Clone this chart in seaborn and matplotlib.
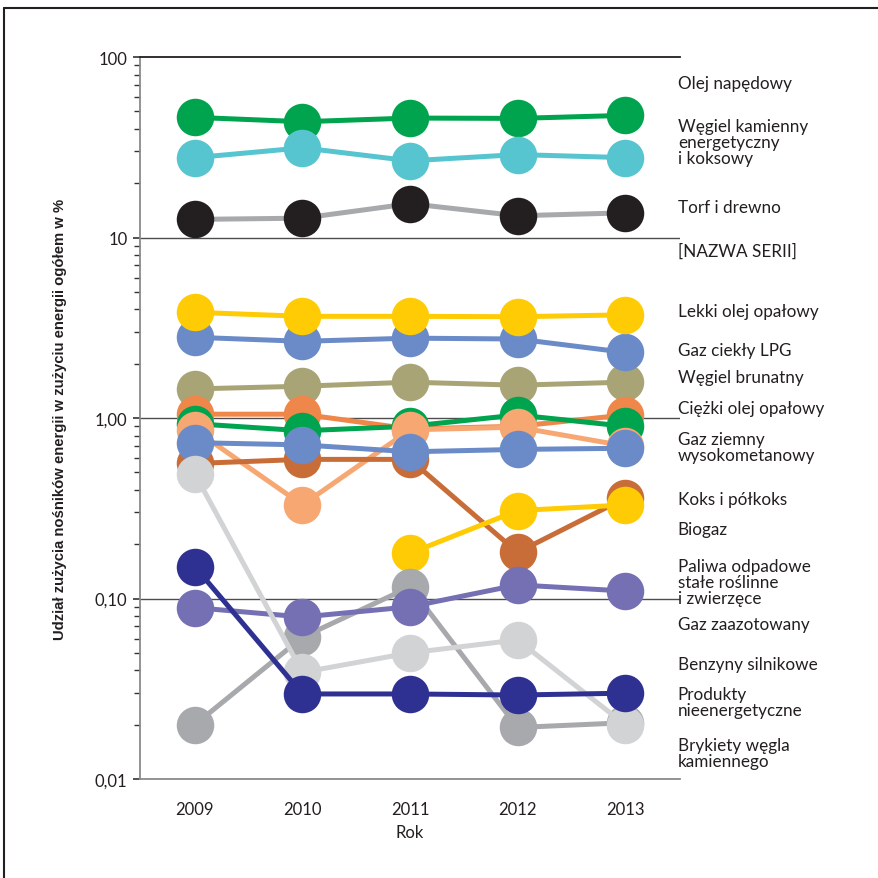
import numpy as np
import pandas as pd
import seaborn as sns
import matplotlib
matplotlib.use("Agg")
import matplotlib.pyplot as plt
from matplotlib.ticker import FixedLocator, FixedFormatter, LogLocator, NullFormatter

# =========================
# DATA
# =========================
years = [2009, 2010, 2011, 2012, 2013]

diesel       = [46.3, 43.8, 45.9, 45.7, 47.5]
coal_hard    = [27.7, 31.4, 26.6, 28.8, 27.7]
peat_wood    = [12.6, 12.8, 15.4, 13.2, 13.7]
light_oil    = [3.85, 3.66, 3.66, 3.64, 3.73]
lpg          = [2.80, 2.66, 2.77, 2.74, 2.31]
lignite      = [1.45, 1.50, 1.58, 1.52, 1.58]
heavy_oil    = [1.05, 1.05, 0.87, 0.90, 1.04]
green2       = [0.93, 0.85, 0.90, 1.04, 0.90]
light_orange = [0.86, 0.33, 0.86, 0.89, 0.70]
coke         = [0.56, 0.59, 0.59, 0.18, 0.36]
natural_gas  = [0.73, 0.71, 0.65, 0.67, 0.68]
biogas       = [np.nan, np.nan, 0.178, 0.307, 0.33]
dark_gray    = [0.020, 0.061, 0.116, 0.0193, 0.0205]
purple       = [0.089, 0.079, 0.090, 0.119, 0.110]
light_gray   = [0.49, 0.039, 0.050, 0.059, 0.020]
navy         = [0.150, 0.0296, 0.0296, 0.0292, 0.0299]

# (values, line colour, marker colour) in drawing order
series = [
    (diesel,       "#00A34E", "#00A34E"),
    (coal_hard,    "#56C5D0", "#56C5D0"),
    (peat_wood,    "#A7A9AC", "#231F20"),
    (lignite,      "#A9A476", "#A9A476"),
    (lpg,          "#6A8BC7", "#6A8BC7"),
    (light_oil,    "#FFCB05", "#FFCB05"),
    (heavy_oil,    "#F0874A", "#F0874A"),
    (green2,       "#00A34E", "#00A34E"),
    (light_orange, "#F7A872", "#F7A872"),
    (coke,         "#C96D38", "#C96D38"),
    (natural_gas,  "#6A8BC7", "#6A8BC7"),
    (biogas,       "#FFCB05", "#FFCB05"),
    (dark_gray,    "#A7A9AC", "#A7A9AC"),
    (purple,       "#7570B3", "#7570B3"),
    (light_gray,   "#D1D3D4", "#D1D3D4"),
    (navy,         "#2E3192", "#2E3192"),
]

labels = [
    "Olej napędowy",
    "Węgiel kamienny\nenergetyczny\ni koksowy",
    "Torf i drewno",
    "[NAZWA SERII]",
    "Lekki olej opałowy",
    "Gaz ciekły LPG",
    "Węgiel brunatny",
    "Ciężki olej opałowy",
    "Gaz ziemny\nwysokometanowy",
    "Koks i półkoks",
    "Biogaz",
    "Paliwa odpadowe\nstałe roślinne\ni zwierzęce",
    "Gaz zaazotowany",
    "Benzyny silnikowe",
    "Produkty\nnieenergetyczne",
    "Brykiety węgla\nkamiennego",
]
# label anchor heights (in % on the log axis, centre of each text block)
label_y = [71.8, 33.8, 14.8, 8.41, 3.92, 2.38, 1.687, 1.136, 0.695, 0.356,
           0.243, 0.1234, 0.0722, 0.0434, 0.0267, 0.0140]

# =========================
# PLOT
# =========================
sns.set_style("white")
plt.rcParams["font.family"] = ["Lato", "DejaVu Sans"]

fig = plt.figure(figsize=(8.79, 8.79), dpi=100)
ax = fig.add_axes([0.1593, 0.1126, 0.6143, 0.8214])

for vals, lc, mc in series:
    df = pd.DataFrame({"Rok": years, "Udzial": vals})
    sns.lineplot(data=df, x="Rok", y="Udzial", ax=ax, color=lc, lw=3.6,
                 marker="o", markersize=27, markerfacecolor=mc,
                 markeredgewidth=0, legend=False)

ax.set_yscale("log")
ax.set_ylim(0.01, 100)
ax.set_xlim(2008.49, 2013.51)

# gridlines at decades
for v in [0.1, 1, 10]:
    ax.axhline(v, color="#4D4D4D", lw=1.0, zorder=0)

ax.spines["right"].set_visible(False)
ax.spines["top"].set_color("#231F20")
ax.spines["top"].set_linewidth(1.3)
ax.spines["left"].set_color("#8A8A8A")
ax.spines["left"].set_linewidth(1.3)
ax.spines["bottom"].set_color("#8A8A8A")
ax.spines["bottom"].set_linewidth(1.3)

ax.yaxis.set_major_locator(FixedLocator([0.01, 0.1, 1, 10, 100]))
ax.yaxis.set_major_formatter(FixedFormatter(["0,01", "0,10", "1,00", "10", "100"]))
ax.yaxis.set_minor_locator(LogLocator(base=10, subs=np.arange(2, 10)))
ax.yaxis.set_minor_formatter(NullFormatter())
ax.tick_params(axis="y", which="major", direction="out", length=5, width=1.2,
               color="#333333", labelsize=12, labelcolor="#231F20", pad=4, left=True)
ax.tick_params(axis="y", which="minor", direction="out", length=4, width=1.0,
               color="#333333", left=True)

ax.set_xticks(years)
ax.set_xticklabels([str(y) for y in years])
ax.tick_params(axis="x", length=0, labelsize=12, labelcolor="#231F20", pad=16)

ax.set_xlabel("Rok", fontsize=12, color="#231F20", labelpad=5)
ax.set_ylabel("Udział zużycia nośników energii w zużyciu energii ogółem w %",
              fontsize=10.7, fontweight="bold", color="#231F20", labelpad=20,
              family=["Liberation Sans", "DejaVu Sans"])

# right-hand labels
for txt, yv in zip(labels, label_y):
    ax.text(2013.49, yv, txt, fontsize=12.3, color="#231F20", va="center",
            ha="left", linespacing=1.0, clip_on=False)

# outer frame lines (left and top)
fig.add_artist(plt.Line2D([0.005, 0.005], [0.0, 0.99], color="#231F20", lw=1.5,
                          transform=fig.transFigure))
fig.add_artist(plt.Line2D([0.005, 1.0], [0.99, 0.99], color="#231F20", lw=1.5,
                          transform=fig.transFigure))

plt.savefig("out.png", dpi=100)
